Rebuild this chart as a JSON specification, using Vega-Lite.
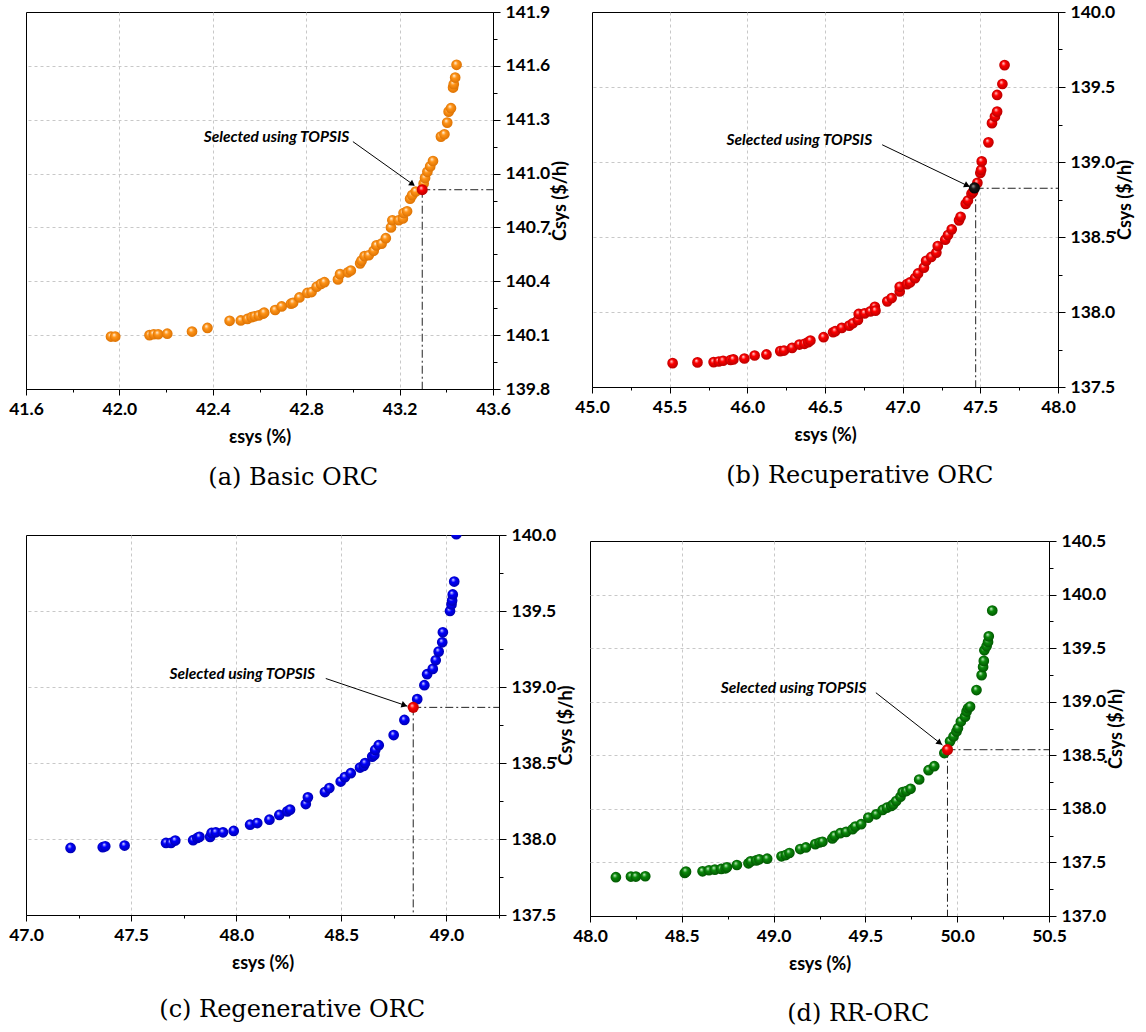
{
  "$schema": "https://vega.github.io/schema/vega-lite/v6.json",
  "background": "white",
  "padding": {"left": 8, "top": 2, "right": 0, "bottom": 0},
  "spacing": 35,
  "config": {
    "view": {"stroke": "#000", "strokeWidth": 1},
    "axis": {"labelFont": "Lato", "labelFontWeight": "bold", "labelFontSize": 17.5, "labelColor": "#000", "titleFont": "Lato", "titleFontWeight": "bold", "titleFontSize": 18, "titleColor": "#000", "domainColor": "#000", "tickColor": "#000", "gridColor": "#c8c8c8", "gridDash": [3, 3], "labelFlush": false, "labelOverlap": false},
    "axisX": {"labelPadding": 5, "titlePadding": 11},
    "axisY": {"labelPadding": 5, "titlePadding": 2, "titleBaseline": "top"},
    "title": {"font": "DejaVu Serif", "fontSize": 24, "fontWeight": "normal", "color": "#000"}
  },
  "vconcat": [
    {
      "spacing": 3,
      "hconcat": [
        {
          "width": 467, "height": 377,
          "title": {"text": "(a) Basic ORC", "orient": "bottom", "anchor": "middle", "frame": "bounds", "offset": 19, "dx": 4},
          "encoding": {
            "x": {"field": "eff", "type": "quantitative", "scale": {"domain": [41.6, 43.6], "nice": false, "zero": false},
              "axis": {"title": "εsys  (%)", "values": [41.6, 41.8, 42.0, 42.2, 42.4, 42.6, 42.8, 43.0, 43.2, 43.4, 43.6],
                "labelExpr": "abs(datum.value*2.5-round(datum.value*2.5))<0.01 ? format(datum.value,'.1f') : ''",
                "tickSize": {"condition": {"test": "abs(datum.value*2.5-round(datum.value*2.5))<0.01", "value": 6}, "value": 3},
                "gridOpacity": {"condition": {"test": "abs(datum.value*2.5-round(datum.value*2.5))<0.01 && datum.value>41.7 && datum.value<43.5", "value": 1}, "value": 0}}},
            "y": {"field": "cost", "type": "quantitative", "scale": {"domain": [139.8, 141.9], "nice": false, "zero": false},
              "axis": {"orient": "right", "title": "Ċsys ($/h)", "titleAngle": 270, "values": [139.8, 139.95, 140.1, 140.25, 140.4, 140.55, 140.7, 140.85, 141.0, 141.15, 141.3, 141.45, 141.6, 141.75, 141.9],
                "labelExpr": "abs(datum.value*10/3-round(datum.value*10/3))<0.01 ? format(datum.value,'.1f') : ''",
                "tickSize": {"condition": {"test": "abs(datum.value*10/3-round(datum.value*10/3))<0.01", "value": 7}, "value": 4},
                "gridOpacity": {"condition": {"test": "abs(datum.value*10/3-round(datum.value*10/3))<0.01 && datum.value>139.9 && datum.value<141.8", "value": 1}, "value": 0}}}
          },
          "layer": [
            {"data": {"values": [{"eff": 43.297, "cost": 140.91}]}, "mark": {"type": "rule", "strokeDash": [8, 3, 2, 3], "color": "#222", "strokeWidth": 1}, "encoding": {"x2": {"datum": 43.6}}},
            {"data": {"values": [{"eff": 43.297, "cost": 140.91}]}, "mark": {"type": "rule", "strokeDash": [8, 3, 2, 3], "color": "#222", "strokeWidth": 1}, "encoding": {"y2": {"datum": 139.8}}},
            {"data": {"values": [{"eff": 43.0, "cost": 141.178, "eff2": 43.262, "cost2": 140.935}]}, "mark": {"type": "rule", "color": "#000", "strokeWidth": 1}, "encoding": {"x2": {"field": "eff2"}, "y2": {"field": "cost2"}}},
            {"data": {"values": [{"eff": 43.255, "cost": 140.941}]}, "mark": {"type": "point", "shape": "triangle-right", "filled": true, "color": "#000", "opacity": 1, "size": 45, "angle": 36}},
            {"data": {"values": [{"eff": 42.673, "cost": 141.206, "label": "Selected using TOPSIS"}]}, "mark": {"type": "text", "font": "Lato", "fontSize": 15.5, "fontWeight": "bold", "fontStyle": "italic", "color": "#000"}, "encoding": {"text": {"field": "label"}}},
            {"data": {"name": "a_pts"}, "mark": {"type": "point", "filled": true, "opacity": 1, "size": 115, "strokeWidth": 0,
              "fill": {"gradient": "radial", "x1": 0.38, "y1": 0.32, "r1": 0.02, "x2": 0.5, "y2": 0.5, "r2": 0.55, "stops": [{"offset": 0, "color": "#FFF1DC"}, {"offset": 0.35, "color": "#FF9418"}, {"offset": 1, "color": "#D86E00"}]}}},
            {"data": {"values": [{"eff": 43.297, "cost": 140.91}]}, "mark": {"type": "point", "filled": true, "opacity": 1, "size": 120, "strokeWidth": 0,
              "fill": {"gradient": "radial", "x1": 0.38, "y1": 0.32, "r1": 0.02, "x2": 0.5, "y2": 0.5, "r2": 0.55, "stops": [{"offset": 0, "color": "#FFD0D0"}, {"offset": 0.35, "color": "#FF0000"}, {"offset": 1, "color": "#B00000"}]}}}
          ]
        },
        {
          "width": 466, "height": 375,
          "title": {"text": "(b) Recuperative ORC", "orient": "bottom", "anchor": "middle", "frame": "bounds", "offset": 19, "dx": 5},
          "encoding": {
            "x": {"field": "eff", "type": "quantitative", "scale": {"domain": [45.0, 48.0], "nice": false, "zero": false},
              "axis": {"title": "εsys (%)", "values": [45.0, 45.25, 45.5, 45.75, 46.0, 46.25, 46.5, 46.75, 47.0, 47.25, 47.5, 47.75, 48.0],
                "labelExpr": "abs(datum.value*2-round(datum.value*2))<0.01 ? format(datum.value,'.1f') : ''",
                "tickSize": {"condition": {"test": "abs(datum.value*2-round(datum.value*2))<0.01", "value": 6}, "value": 3},
                "gridOpacity": {"condition": {"test": "abs(datum.value*2-round(datum.value*2))<0.01 && datum.value>45.1 && datum.value<47.9", "value": 1}, "value": 0}}},
            "y": {"field": "cost", "type": "quantitative", "scale": {"domain": [137.5, 140.0], "nice": false, "zero": false},
              "axis": {"orient": "right", "title": "Ċsys ($/h)", "titleAngle": 270, "values": [137.5, 137.75, 138.0, 138.25, 138.5, 138.75, 139.0, 139.25, 139.5, 139.75, 140.0],
                "labelExpr": "abs(datum.value*2-round(datum.value*2))<0.01 ? format(datum.value,'.1f') : ''",
                "tickSize": {"condition": {"test": "abs(datum.value*2-round(datum.value*2))<0.01", "value": 7}, "value": 4},
                "gridOpacity": {"condition": {"test": "abs(datum.value*2-round(datum.value*2))<0.01 && datum.value>137.6 && datum.value<139.9", "value": 1}, "value": 0}}}
          },
          "layer": [
            {"data": {"values": [{"eff": 47.47, "cost": 138.825}]}, "mark": {"type": "rule", "strokeDash": [8, 3, 2, 3], "color": "#222", "strokeWidth": 1}, "encoding": {"x2": {"datum": 48.0}}},
            {"data": {"values": [{"eff": 47.47, "cost": 138.825}]}, "mark": {"type": "rule", "strokeDash": [8, 3, 2, 3], "color": "#222", "strokeWidth": 1}, "encoding": {"y2": {"datum": 137.5}}},
            {"data": {"values": [{"eff": 46.868, "cost": 139.115, "eff2": 47.43, "cost2": 138.836}]}, "mark": {"type": "rule", "color": "#000", "strokeWidth": 1}, "encoding": {"x2": {"field": "eff2"}, "y2": {"field": "cost2"}}},
            {"data": {"values": [{"eff": 47.415, "cost": 138.843}]}, "mark": {"type": "point", "shape": "triangle-right", "filled": true, "color": "#000", "opacity": 1, "size": 45, "angle": 26}},
            {"data": {"values": [{"eff": 46.335, "cost": 139.144, "label": "Selected using TOPSIS"}]}, "mark": {"type": "text", "font": "Lato", "fontSize": 15.5, "fontWeight": "bold", "fontStyle": "italic", "color": "#000"}, "encoding": {"text": {"field": "label"}}},
            {"data": {"name": "b_pts"}, "mark": {"type": "point", "filled": true, "opacity": 1, "size": 115, "strokeWidth": 0,
              "fill": {"gradient": "radial", "x1": 0.38, "y1": 0.32, "r1": 0.02, "x2": 0.5, "y2": 0.5, "r2": 0.55, "stops": [{"offset": 0, "color": "#FFD0D0"}, {"offset": 0.35, "color": "#FF0000"}, {"offset": 1, "color": "#B00000"}]}}},
            {"data": {"values": [{"eff": 47.462, "cost": 138.827}]}, "mark": {"type": "point", "filled": true, "opacity": 1, "size": 125, "strokeWidth": 0,
              "fill": {"gradient": "radial", "x1": 0.38, "y1": 0.32, "r1": 0.02, "x2": 0.5, "y2": 0.5, "r2": 0.55, "stops": [{"offset": 0, "color": "#9A9A9A"}, {"offset": 0.35, "color": "#1A1A1A"}, {"offset": 1, "color": "#000000"}]}}}
          ]
        }
      ]
    },
    {
      "spacing": -5,
      "hconcat": [
        {
          "width": 473, "height": 380,
          "title": {"text": "(c) Regenerative ORC", "orient": "bottom", "anchor": "middle", "frame": "bounds", "offset": 25, "dx": 0},
          "encoding": {
            "x": {"field": "eff", "type": "quantitative", "scale": {"domain": [47.0, 49.25], "nice": false, "zero": false},
              "axis": {"title": "εsys  (%)", "values": [47.0, 47.25, 47.5, 47.75, 48.0, 48.25, 48.5, 48.75, 49.0, 49.25],
                "labelExpr": "abs(datum.value*2-round(datum.value*2))<0.01 ? format(datum.value,'.1f') : ''",
                "tickSize": {"condition": {"test": "abs(datum.value*2-round(datum.value*2))<0.01", "value": 6}, "value": 3},
                "gridOpacity": {"condition": {"test": "abs(datum.value*2-round(datum.value*2))<0.01 && datum.value>47.1", "value": 1}, "value": 0}}},
            "y": {"field": "cost", "type": "quantitative", "scale": {"domain": [137.5, 140.0], "nice": false, "zero": false},
              "axis": {"orient": "right", "title": "Ċsys ($/h)", "titleAngle": 270, "values": [137.5, 137.75, 138.0, 138.25, 138.5, 138.75, 139.0, 139.25, 139.5, 139.75, 140.0],
                "labelExpr": "abs(datum.value*2-round(datum.value*2))<0.01 ? format(datum.value,'.1f') : ''",
                "tickSize": {"condition": {"test": "abs(datum.value*2-round(datum.value*2))<0.01", "value": 7}, "value": 4},
                "gridOpacity": {"condition": {"test": "abs(datum.value*2-round(datum.value*2))<0.01 && datum.value>137.6 && datum.value<139.9", "value": 1}, "value": 0}}}
          },
          "layer": [
            {"data": {"values": [{"eff": 48.842, "cost": 138.866}]}, "mark": {"type": "rule", "strokeDash": [8, 3, 2, 3], "color": "#222", "strokeWidth": 1}, "encoding": {"x2": {"datum": 49.25}}},
            {"data": {"values": [{"eff": 48.842, "cost": 138.866}]}, "mark": {"type": "rule", "strokeDash": [8, 3, 2, 3], "color": "#222", "strokeWidth": 1}, "encoding": {"y2": {"datum": 137.5}}},
            {"data": {"values": [{"eff": 48.426, "cost": 139.056, "eff2": 48.815, "cost2": 138.874}]}, "mark": {"type": "rule", "color": "#000", "strokeWidth": 1}, "encoding": {"x2": {"field": "eff2"}, "y2": {"field": "cost2"}}},
            {"data": {"values": [{"eff": 48.8, "cost": 138.88}]}, "mark": {"type": "point", "shape": "triangle-right", "filled": true, "color": "#000", "opacity": 1, "size": 45, "angle": 19}},
            {"data": {"values": [{"eff": 48.029, "cost": 139.084, "label": "Selected using TOPSIS"}]}, "mark": {"type": "text", "font": "Lato", "fontSize": 15.5, "fontWeight": "bold", "fontStyle": "italic", "color": "#000"}, "encoding": {"text": {"field": "label"}}},
            {"data": {"name": "c_pts"}, "mark": {"type": "point", "filled": true, "opacity": 1, "size": 115, "strokeWidth": 0, "clip": true,
              "fill": {"gradient": "radial", "x1": 0.38, "y1": 0.32, "r1": 0.02, "x2": 0.5, "y2": 0.5, "r2": 0.55, "stops": [{"offset": 0, "color": "#D8D8FF"}, {"offset": 0.35, "color": "#0000FF"}, {"offset": 1, "color": "#0000A8"}]}}},
            {"data": {"values": [{"eff": 48.842, "cost": 138.866}]}, "mark": {"type": "point", "filled": true, "opacity": 1, "size": 125, "strokeWidth": 0,
              "fill": {"gradient": "radial", "x1": 0.38, "y1": 0.32, "r1": 0.02, "x2": 0.5, "y2": 0.5, "r2": 0.55, "stops": [{"offset": 0, "color": "#FFD0D0"}, {"offset": 0.35, "color": "#FF0000"}, {"offset": 1, "color": "#B00000"}]}}}
          ]
        },
        {
          "title": {"text": "(d) RR-ORC", "orient": "bottom", "anchor": "middle", "frame": "bounds", "offset": 28, "dx": 9},
          "spacing": -11,
          "vconcat": [
            {
              "width": 459, "height": 1,
              "view": {"stroke": null},
              "data": {"values": [{"t": ""}]},
              "mark": {"type": "text", "opacity": 0},
              "encoding": {"text": {"field": "t"}}
            },
            {
              "width": 459, "height": 375,
              "encoding": {
                "x": {"field": "eff", "type": "quantitative", "scale": {"domain": [48.0, 50.5], "nice": false, "zero": false},
                  "axis": {"title": "εsys (%)", "values": [48.0, 48.25, 48.5, 48.75, 49.0, 49.25, 49.5, 49.75, 50.0, 50.25, 50.5],
                    "labelExpr": "abs(datum.value*2-round(datum.value*2))<0.01 ? format(datum.value,'.1f') : ''",
                    "tickSize": {"condition": {"test": "abs(datum.value*2-round(datum.value*2))<0.01", "value": 6}, "value": 3},
                    "gridOpacity": {"condition": {"test": "abs(datum.value*2-round(datum.value*2))<0.01 && datum.value>48.1 && datum.value<50.4", "value": 1}, "value": 0}}},
                "y": {"field": "cost", "type": "quantitative", "scale": {"domain": [137.0, 140.5], "nice": false, "zero": false},
                  "axis": {"orient": "right", "title": "Ċsys ($/h)", "titleAngle": 270, "values": [137.0, 137.25, 137.5, 137.75, 138.0, 138.25, 138.5, 138.75, 139.0, 139.25, 139.5, 139.75, 140.0, 140.25, 140.5],
                    "labelExpr": "abs(datum.value*2-round(datum.value*2))<0.01 ? format(datum.value,'.1f') : ''",
                    "tickSize": {"condition": {"test": "abs(datum.value*2-round(datum.value*2))<0.01", "value": 7}, "value": 4},
                    "gridOpacity": {"condition": {"test": "abs(datum.value*2-round(datum.value*2))<0.01 && datum.value>137.1 && datum.value<140.4", "value": 1}, "value": 0}}}
              },
              "layer": [
                {"data": {"values": [{"eff": 49.947, "cost": 138.552}]}, "mark": {"type": "rule", "strokeDash": [8, 3, 2, 3], "color": "#222", "strokeWidth": 1}, "encoding": {"x2": {"datum": 50.5}}},
                {"data": {"values": [{"eff": 49.947, "cost": 138.552}]}, "mark": {"type": "rule", "strokeDash": [8, 3, 2, 3], "color": "#222", "strokeWidth": 1}, "encoding": {"y2": {"datum": 137.0}}},
                {"data": {"values": [{"eff": 49.557, "cost": 139.084, "eff2": 49.92, "cost2": 138.596}]}, "mark": {"type": "rule", "color": "#000", "strokeWidth": 1}, "encoding": {"x2": {"field": "eff2"}, "y2": {"field": "cost2"}}},
                {"data": {"values": [{"eff": 49.905, "cost": 138.616}]}, "mark": {"type": "point", "shape": "triangle-right", "filled": true, "color": "#000", "opacity": 1, "size": 45, "angle": 38}},
                {"data": {"values": [{"eff": 49.109, "cost": 139.124, "label": "Selected using TOPSIS"}]}, "mark": {"type": "text", "font": "Lato", "fontSize": 15.5, "fontWeight": "bold", "fontStyle": "italic", "color": "#000"}, "encoding": {"text": {"field": "label"}}},
                {"data": {"name": "d_pts"}, "mark": {"type": "point", "filled": true, "opacity": 1, "size": 115, "strokeWidth": 0,
                  "fill": {"gradient": "radial", "x1": 0.38, "y1": 0.32, "r1": 0.02, "x2": 0.5, "y2": 0.5, "r2": 0.55, "stops": [{"offset": 0, "color": "#C8F0C8"}, {"offset": 0.35, "color": "#0A8A0A"}, {"offset": 1, "color": "#005000"}]}}},
                {"data": {"values": [{"eff": 49.947, "cost": 138.552}]}, "mark": {"type": "point", "filled": true, "opacity": 1, "size": 125, "strokeWidth": 0,
                  "fill": {"gradient": "radial", "x1": 0.38, "y1": 0.32, "r1": 0.02, "x2": 0.5, "y2": 0.5, "r2": 0.55, "stops": [{"offset": 0, "color": "#FFD0D0"}, {"offset": 0.35, "color": "#FF0000"}, {"offset": 1, "color": "#B00000"}]}}}
              ]
            }
          ]
        }
      ]
    }
  ],
  "datasets": {
    "a_pts": [
      {"eff": 41.964, "cost": 140.092}, {"eff": 41.982, "cost": 140.092}, {"eff": 42.129, "cost": 140.1}, {"eff": 42.147, "cost": 140.105}, {"eff": 42.166, "cost": 140.105}, {"eff": 42.205, "cost": 140.108},
      {"eff": 42.311, "cost": 140.12}, {"eff": 42.377, "cost": 140.14}, {"eff": 42.472, "cost": 140.18}, {"eff": 42.52, "cost": 140.182}, {"eff": 42.548, "cost": 140.19}, {"eff": 42.566, "cost": 140.2},
      {"eff": 42.579, "cost": 140.205}, {"eff": 42.597, "cost": 140.21}, {"eff": 42.615, "cost": 140.22}, {"eff": 42.62, "cost": 140.225}, {"eff": 42.667, "cost": 140.24}, {"eff": 42.695, "cost": 140.26},
      {"eff": 42.735, "cost": 140.275}, {"eff": 42.744, "cost": 140.28}, {"eff": 42.771, "cost": 140.31}, {"eff": 42.805, "cost": 140.335}, {"eff": 42.823, "cost": 140.34}, {"eff": 42.845, "cost": 140.37},
      {"eff": 42.863, "cost": 140.385}, {"eff": 42.878, "cost": 140.395}, {"eff": 42.936, "cost": 140.41}, {"eff": 42.945, "cost": 140.44}, {"eff": 42.979, "cost": 140.45}, {"eff": 42.991, "cost": 140.46},
      {"eff": 43.031, "cost": 140.5}, {"eff": 43.037, "cost": 140.515}, {"eff": 43.05, "cost": 140.54}, {"eff": 43.068, "cost": 140.545}, {"eff": 43.089, "cost": 140.57}, {"eff": 43.101, "cost": 140.6},
      {"eff": 43.123, "cost": 140.61}, {"eff": 43.141, "cost": 140.64}, {"eff": 43.163, "cost": 140.7}, {"eff": 43.169, "cost": 140.74}, {"eff": 43.196, "cost": 140.74}, {"eff": 43.214, "cost": 140.75},
      {"eff": 43.217, "cost": 140.78}, {"eff": 43.232, "cost": 140.79}, {"eff": 43.245, "cost": 140.86}, {"eff": 43.254, "cost": 140.88}, {"eff": 43.269, "cost": 140.9}, {"eff": 43.303, "cost": 140.945},
      {"eff": 43.309, "cost": 140.976}, {"eff": 43.319, "cost": 141.01}, {"eff": 43.331, "cost": 141.04}, {"eff": 43.343, "cost": 141.07}, {"eff": 43.377, "cost": 141.206}, {"eff": 43.392, "cost": 141.219},
      {"eff": 43.404, "cost": 141.284}, {"eff": 43.41, "cost": 141.345}, {"eff": 43.42, "cost": 141.364}, {"eff": 43.429, "cost": 141.479}, {"eff": 43.432, "cost": 141.498}, {"eff": 43.438, "cost": 141.535},
      {"eff": 43.444, "cost": 141.606}
    ],
    "b_pts": [
      {"eff": 45.519, "cost": 137.659}, {"eff": 45.679, "cost": 137.664}, {"eff": 45.783, "cost": 137.666}, {"eff": 45.816, "cost": 137.67}, {"eff": 45.844, "cost": 137.675}, {"eff": 45.892, "cost": 137.68},
      {"eff": 45.91, "cost": 137.684}, {"eff": 45.981, "cost": 137.69}, {"eff": 46.047, "cost": 137.71}, {"eff": 46.123, "cost": 137.717}, {"eff": 46.212, "cost": 137.739}, {"eff": 46.236, "cost": 137.743},
      {"eff": 46.288, "cost": 137.761}, {"eff": 46.335, "cost": 137.783}, {"eff": 46.368, "cost": 137.788}, {"eff": 46.392, "cost": 137.799}, {"eff": 46.406, "cost": 137.81}, {"eff": 46.491, "cost": 137.832},
      {"eff": 46.552, "cost": 137.865}, {"eff": 46.566, "cost": 137.872}, {"eff": 46.608, "cost": 137.894}, {"eff": 46.656, "cost": 137.909}, {"eff": 46.679, "cost": 137.925}, {"eff": 46.712, "cost": 137.947},
      {"eff": 46.717, "cost": 137.987}, {"eff": 46.755, "cost": 137.991}, {"eff": 46.792, "cost": 138.004}, {"eff": 46.821, "cost": 138.035}, {"eff": 46.825, "cost": 138.009}, {"eff": 46.901, "cost": 138.071},
      {"eff": 46.929, "cost": 138.093}, {"eff": 46.981, "cost": 138.137}, {"eff": 46.981, "cost": 138.168}, {"eff": 47.028, "cost": 138.186}, {"eff": 47.047, "cost": 138.197}, {"eff": 47.08, "cost": 138.226},
      {"eff": 47.099, "cost": 138.257}, {"eff": 47.137, "cost": 138.296}, {"eff": 47.151, "cost": 138.341}, {"eff": 47.184, "cost": 138.367}, {"eff": 47.217, "cost": 138.396}, {"eff": 47.226, "cost": 138.44},
      {"eff": 47.274, "cost": 138.482}, {"eff": 47.292, "cost": 138.513}, {"eff": 47.316, "cost": 138.551}, {"eff": 47.363, "cost": 138.611}, {"eff": 47.373, "cost": 138.635}, {"eff": 47.406, "cost": 138.721},
      {"eff": 47.42, "cost": 138.743}, {"eff": 47.443, "cost": 138.788}, {"eff": 47.453, "cost": 138.801}, {"eff": 47.481, "cost": 138.861}, {"eff": 47.5, "cost": 138.927}, {"eff": 47.505, "cost": 138.947},
      {"eff": 47.509, "cost": 139.004}, {"eff": 47.552, "cost": 139.131}, {"eff": 47.575, "cost": 139.259}, {"eff": 47.594, "cost": 139.303}, {"eff": 47.608, "cost": 139.336}, {"eff": 47.608, "cost": 139.447},
      {"eff": 47.642, "cost": 139.52}, {"eff": 47.656, "cost": 139.646}
    ],
    "c_pts": [
      {"eff": 47.212, "cost": 137.941}, {"eff": 47.365, "cost": 137.946}, {"eff": 47.377, "cost": 137.952}, {"eff": 47.469, "cost": 137.957}, {"eff": 47.666, "cost": 137.974}, {"eff": 47.69, "cost": 137.974},
      {"eff": 47.71, "cost": 137.99}, {"eff": 47.795, "cost": 137.992}, {"eff": 47.815, "cost": 138.007}, {"eff": 47.825, "cost": 138.014}, {"eff": 47.876, "cost": 138.014}, {"eff": 47.883, "cost": 138.04},
      {"eff": 47.903, "cost": 138.044}, {"eff": 47.937, "cost": 138.044}, {"eff": 47.988, "cost": 138.053}, {"eff": 48.066, "cost": 138.094}, {"eff": 48.1, "cost": 138.105}, {"eff": 48.158, "cost": 138.127},
      {"eff": 48.205, "cost": 138.158}, {"eff": 48.243, "cost": 138.182}, {"eff": 48.256, "cost": 138.193}, {"eff": 48.331, "cost": 138.23}, {"eff": 48.341, "cost": 138.274}, {"eff": 48.422, "cost": 138.309},
      {"eff": 48.443, "cost": 138.335}, {"eff": 48.497, "cost": 138.378}, {"eff": 48.517, "cost": 138.407}, {"eff": 48.545, "cost": 138.433}, {"eff": 48.589, "cost": 138.47}, {"eff": 48.606, "cost": 138.481},
      {"eff": 48.613, "cost": 138.499}, {"eff": 48.647, "cost": 138.542}, {"eff": 48.657, "cost": 138.553}, {"eff": 48.661, "cost": 138.586}, {"eff": 48.678, "cost": 138.617}, {"eff": 48.749, "cost": 138.684},
      {"eff": 48.8, "cost": 138.783}, {"eff": 48.861, "cost": 138.92}, {"eff": 48.895, "cost": 139.012}, {"eff": 48.908, "cost": 139.084}, {"eff": 48.935, "cost": 139.119}, {"eff": 48.949, "cost": 139.176},
      {"eff": 48.963, "cost": 139.233}, {"eff": 48.98, "cost": 139.294}, {"eff": 48.983, "cost": 139.36}, {"eff": 49.017, "cost": 139.5}, {"eff": 49.024, "cost": 139.543}, {"eff": 49.027, "cost": 139.569},
      {"eff": 49.03, "cost": 139.609}, {"eff": 49.037, "cost": 139.694}, {"eff": 49.047, "cost": 140.005}
    ],
    "d_pts": [
      {"eff": 48.141, "cost": 137.362}, {"eff": 48.223, "cost": 137.368}, {"eff": 48.25, "cost": 137.368}, {"eff": 48.301, "cost": 137.371}, {"eff": 48.516, "cost": 137.402}, {"eff": 48.523, "cost": 137.414},
      {"eff": 48.613, "cost": 137.417}, {"eff": 48.648, "cost": 137.427}, {"eff": 48.68, "cost": 137.433}, {"eff": 48.715, "cost": 137.439}, {"eff": 48.738, "cost": 137.445}, {"eff": 48.746, "cost": 137.455},
      {"eff": 48.8, "cost": 137.476}, {"eff": 48.863, "cost": 137.492}, {"eff": 48.875, "cost": 137.51}, {"eff": 48.906, "cost": 137.519}, {"eff": 48.922, "cost": 137.529}, {"eff": 48.965, "cost": 137.535},
      {"eff": 49.043, "cost": 137.557}, {"eff": 49.066, "cost": 137.569}, {"eff": 49.086, "cost": 137.588}, {"eff": 49.145, "cost": 137.625}, {"eff": 49.176, "cost": 137.64}, {"eff": 49.227, "cost": 137.671},
      {"eff": 49.25, "cost": 137.686}, {"eff": 49.266, "cost": 137.693}, {"eff": 49.32, "cost": 137.724}, {"eff": 49.332, "cost": 137.748}, {"eff": 49.363, "cost": 137.773}, {"eff": 49.395, "cost": 137.785},
      {"eff": 49.43, "cost": 137.81}, {"eff": 49.445, "cost": 137.835}, {"eff": 49.477, "cost": 137.857}, {"eff": 49.516, "cost": 137.918}, {"eff": 49.559, "cost": 137.949}, {"eff": 49.594, "cost": 137.99},
      {"eff": 49.617, "cost": 138.011}, {"eff": 49.641, "cost": 138.027}, {"eff": 49.652, "cost": 138.042}, {"eff": 49.668, "cost": 138.073}, {"eff": 49.691, "cost": 138.113}, {"eff": 49.703, "cost": 138.156},
      {"eff": 49.723, "cost": 138.166}, {"eff": 49.746, "cost": 138.187}, {"eff": 49.793, "cost": 138.274}, {"eff": 49.844, "cost": 138.361}, {"eff": 49.875, "cost": 138.398}, {"eff": 49.93, "cost": 138.521},
      {"eff": 49.961, "cost": 138.63}, {"eff": 49.98, "cost": 138.676}, {"eff": 49.996, "cost": 138.722}, {"eff": 50.004, "cost": 138.753}, {"eff": 50.02, "cost": 138.815}, {"eff": 50.043, "cost": 138.861},
      {"eff": 50.051, "cost": 138.908}, {"eff": 50.059, "cost": 138.939}, {"eff": 50.07, "cost": 138.954}, {"eff": 50.105, "cost": 139.109}, {"eff": 50.133, "cost": 139.248}, {"eff": 50.141, "cost": 139.325},
      {"eff": 50.145, "cost": 139.381}, {"eff": 50.148, "cost": 139.48}, {"eff": 50.16, "cost": 139.517}, {"eff": 50.168, "cost": 139.557}, {"eff": 50.172, "cost": 139.61}, {"eff": 50.191, "cost": 139.851}
    ]
  }
}
